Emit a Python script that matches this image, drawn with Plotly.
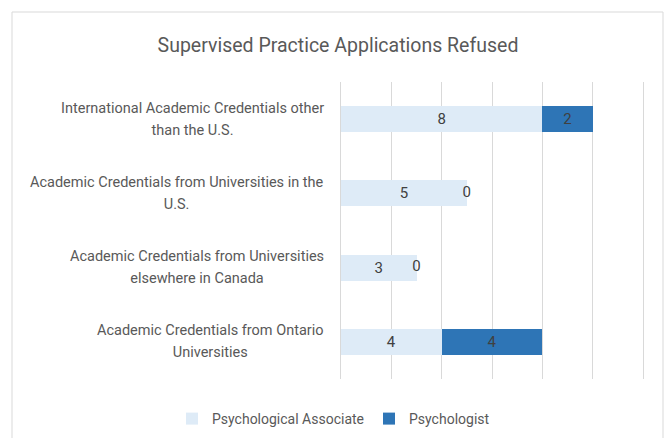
import plotly.graph_objects as go

categories = [
    "International Academic Credentials other<br>than the U.S.",
    "Academic Credentials from Universities in the<br>U.S.",
    "Academic Credentials from Universities<br>elsewhere in Canada",
    "Academic Credentials from Ontario<br>Universities",
]
psych_associate = [8, 5, 3, 4]
psychologist = [2, 0, 0, 4]
series_names = ["Psychological Associate", "Psychologist"]
title_text = "Supervised Practice Applications Refused"

FONT = "Roboto"
TXT = "#595959"
LBL = "#404040"
C1 = "#DEEBF7"
C2 = "#2E75B6"
GRID = "#D9D9D9"

W, H = 665, 438
L, R, T, B = 341, 22, 82, 59
pw, ph = W - L - R, H - T - B

def px_x(x):
    return (x - L) / pw

def px_y(y):
    return (H - B - y) / ph

fig = go.Figure()
fig.add_trace(go.Bar(
    y=categories, x=psych_associate, name=series_names[0], orientation="h",
    marker=dict(color=C1, line=dict(width=0)),
    text=[str(v) if v else "" for v in psych_associate], textposition="inside",
    insidetextanchor="middle", textfont=dict(family=FONT, size=15, color=LBL),
))
fig.add_trace(go.Bar(
    y=categories, x=psychologist, name=series_names[1], orientation="h",
    marker=dict(color=C2, line=dict(width=0)),
    text=[str(v) if v else "" for v in psychologist], textposition="inside",
    insidetextanchor="middle", textfont=dict(family=FONT, size=15, color=LBL),
))
# zero-value labels placed at the end of each stack
zero_idx = [i for i, v in enumerate(psychologist) if v == 0]
fig.add_trace(go.Scatter(
    x=[psych_associate[i] + psychologist[i] for i in zero_idx],
    y=[categories[i] for i in zero_idx],
    text=[str(psychologist[i]) for i in zero_idx],
    mode="text", textposition="middle center",
    textfont=dict(family=FONT, size=15, color=LBL),
    showlegend=False, hoverinfo="skip", cliponaxis=False,
))

# category labels as centered annotations (outer size sets the line spacing)
for c in categories:
    fig.add_annotation(
        x=px_x(326), xref="paper", y=c, yref="y",
        text="<br>".join('<span style="font-size:14.5px">%s</span>' % s for s in c.split("<br>")),
        xanchor="right", yanchor="middle", align="center", showarrow=False,
        font=dict(family=FONT, size=17, color=TXT),
    )

fig.add_shape(
    type="rect", xref="paper", yref="paper",
    x0=px_x(12), x1=px_x(663), y0=px_y(445), y1=px_y(12),
    line=dict(color=GRID, width=1), fillcolor="rgba(0,0,0,0)", layer="below",
)

fig.update_layout(
    width=W, height=H,
    margin=dict(l=L, r=R, t=T, b=B, autoexpand=False),
    paper_bgcolor="white", plot_bgcolor="white",
    barmode="stack", bargap=0.65,
    title=dict(text=title_text, x=338 / W, xanchor="center", y=1 - 45 / H, yanchor="middle",
               font=dict(family=FONT, size=19.5, color=TXT)),
    xaxis=dict(range=[0, 12], dtick=2, tick0=0, showticklabels=False, showgrid=True,
               gridcolor=GRID, gridwidth=1, zeroline=False, showline=False, fixedrange=True),
    yaxis=dict(autorange="reversed", showticklabels=False, showgrid=False, zeroline=False,
               showline=True, mirror=True, linecolor=GRID, linewidth=1, fixedrange=True),
    legend=dict(orientation="h", xref="paper", yref="paper",
                x=px_x(172), xanchor="left", y=px_y(419), yanchor="middle",
                font=dict(family=FONT, size=14, color=TXT), traceorder="normal",
                itemwidth=30, bgcolor="rgba(0,0,0,0)"),
    showlegend=True,
)

fig.write_html("out.html", config={"displayModeBar": False},
               post_script="document.body.style.margin='0';")
